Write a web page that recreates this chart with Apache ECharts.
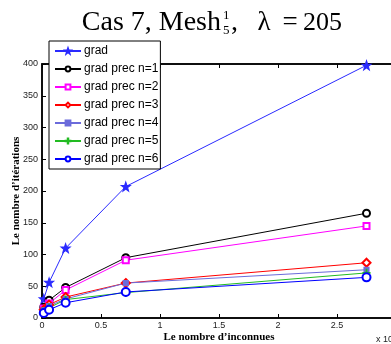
<!DOCTYPE html>
<html>
<head>
<meta charset="utf-8">
<script src="https://cdn.jsdelivr.net/npm/echarts@6/dist/echarts.min.js"></script>
<style>
  html, body { margin: 0; padding: 0; background: #fff; }
  #chart { width: 391px; height: 344px; }
</style>
</head>
<body>
<div id="chart"></div>
<script>
// Number of unknowns (in units of 1e5)
const unknowns = [0.015, 0.06, 0.2, 0.71, 2.75];

// Iteration counts per solver
const grad      = [30, 56, 110, 207, 398];
const precN1    = [17, 28, 48, 95, 165];
const precN2    = [15, 23, 44, 91, 145];
const precN3    = [13, 21, 33, 55, 87];
const precN4    = [12, 19, 30, 55, 76];
const precN5    = [10, 16, 29, 40, 71];
const precN6    = [8, 13, 24, 41, 64];

const seriesNames = ['grad', 'grad prec n=1', 'grad prec n=2', 'grad prec n=3',
                     'grad prec n=4', 'grad prec n=5', 'grad prec n=6'];

const xTicks = [0, 0.5, 1, 1.5, 2, 2.5, 3];
const yTicks = [0, 50, 100, 150, 200, 250, 300, 350, 400];

const STAR = 'path://M0,-10 L2.35,-3.24 9.51,-3.09 3.8,1.24 5.88,8.09 0,4 -5.88,8.09 -3.8,1.24 -9.51,-3.09 -2.35,-3.24Z';
const PLUS = 'path://M-1,-10 h2 v9 h9 v2 h-9 v9 h-2 v-9 h-9 v-2 h9z';

function pairs(ys) { return unknowns.map((x, i) => [x, ys[i]]); }

function lineSeries(name, ys, color, symbol, size) {
  return {
    name: name,
    type: 'line',
    data: pairs(ys),
    symbol: symbol,
    symbolSize: size,
    showAllSymbol: true,
    lineStyle: { color: color, width: 1 },
    itemStyle: { color: color, borderColor: color, borderWidth: 1.1 },
    emphasis: { disabled: true },
    z: 3
  };
}

const chart = echarts.init(document.getElementById('chart'), null, { renderer: 'canvas' });

const tickFont = { fontFamily: 'Liberation Sans, Arial, sans-serif', fontSize: 9, color: '#222' };
const serif = '"Liberation Serif", serif';

function titleText(x, y, text, size, align) {
  return { type: 'text', silent: true, style: {
    x: x, y: y, text: text, align: align, verticalAlign: 'middle',
    font: size + 'px ' + serif, fill: '#000' } };
}

chart.setOption({
  animation: false,
  backgroundColor: '#fff',
  grid: {
    left: 42, top: 64, width: 354, height: 254,
    outerBoundsMode: 'none', containLabel: false,
    show: true, borderColor: '#000', borderWidth: 1.5, backgroundColor: 'transparent'
  },
  graphic: [
    titleText(221, 23, 'Cas 7, Mesh', 28, 'right'),
    titleText(223, 16, '1', 13, 'left'),
    titleText(223, 31, '5', 13, 'left'),
    titleText(231, 23, ',', 28, 'left'),
    titleText(264, 23, '\u03bb', 27, 'center'),
    titleText(290, 23, '=', 27, 'center'),
    titleText(303, 23, '205', 26, 'left'),
    { type: 'text', silent: true, style: {
        x: 376, y: 340, text: 'x 10', align: 'left', verticalAlign: 'middle',
        font: '9px "Liberation Sans", Arial, sans-serif', fill: '#222' } },
    { type: 'text', silent: true, style: {
        x: 393, y: 335, text: '5', align: 'left', verticalAlign: 'middle',
        font: '7px "Liberation Sans", Arial, sans-serif', fill: '#222' } }
  ],
  legend: {
    orient: 'vertical',
    left: 49, top: 41,
    padding: [3, 2, 3, 5],
    itemWidth: 26, itemHeight: 6, itemGap: 4,
    backgroundColor: '#fff',
    borderColor: '#000', borderWidth: 1,
    textStyle: { fontFamily: 'Liberation Sans, Arial, sans-serif', fontSize: 12, color: '#000',
                 lineHeight: 14, padding: [0, 0, 0, -2] },
    data: seriesNames,
    z: 10
  },
  xAxis: [{
    type: 'value', min: 0, max: 3, interval: 0.5,
    name: 'Le nombre d\u2019inconnues', nameLocation: 'middle', nameGap: 14, nameMoveOverlap: false,
    nameTextStyle: { fontFamily: 'Liberation Serif, serif', fontWeight: 'bold', fontSize: 11, color: '#000' },
    axisLine: { show: true, lineStyle: { color: '#000', width: 1.5 } },
    axisTick: { show: true, inside: true, length: 4, lineStyle: { color: '#000' } },
    axisLabel: Object.assign({ margin: 3, formatter: v => String(v) }, tickFont),
    splitLine: { show: false }
  }, {
    type: 'value', position: 'top', min: 0, max: 3, interval: 0.5,
    axisLine: { show: true, lineStyle: { color: '#000', width: 1.5 } },
    axisTick: { show: true, inside: true, length: 4, lineStyle: { color: '#000' } },
    axisLabel: { show: false },
    splitLine: { show: false }
  }],
  yAxis: {
    type: 'value', min: 0, max: 400, interval: 50,
    name: 'Le nombre d\u2019it\u00e9rations', nameLocation: 'middle', nameGap: 20, nameMoveOverlap: false,
    nameTextStyle: { fontFamily: 'Liberation Serif, serif', fontWeight: 'bold', fontSize: 11, color: '#000' },
    axisLine: { show: true, lineStyle: { color: '#000', width: 1.5 } },
    axisTick: { show: true, inside: true, length: 4, lineStyle: { color: '#000' } },
    axisLabel: Object.assign({ margin: 4 }, tickFont),
    splitLine: { show: false }
  },
  series: [
    lineSeries(seriesNames[0], grad,   '#2a2aff', STAR, 9),
    lineSeries(seriesNames[1], precN1, '#000000', 'emptyCircle', 7),
    lineSeries(seriesNames[2], precN2, '#ff00ff', 'emptyRect', 6),
    lineSeries(seriesNames[3], precN3, '#ff0000', 'emptyDiamond', 8),
    lineSeries(seriesNames[4], precN4, '#6b6bdb', 'rect', 5),
    lineSeries(seriesNames[5], precN5, '#22bb22', PLUS, 7),
    lineSeries(seriesNames[6], precN6, '#0000ff', 'emptyCircle', 8)
  ]
});
</script>
</body>
</html>
